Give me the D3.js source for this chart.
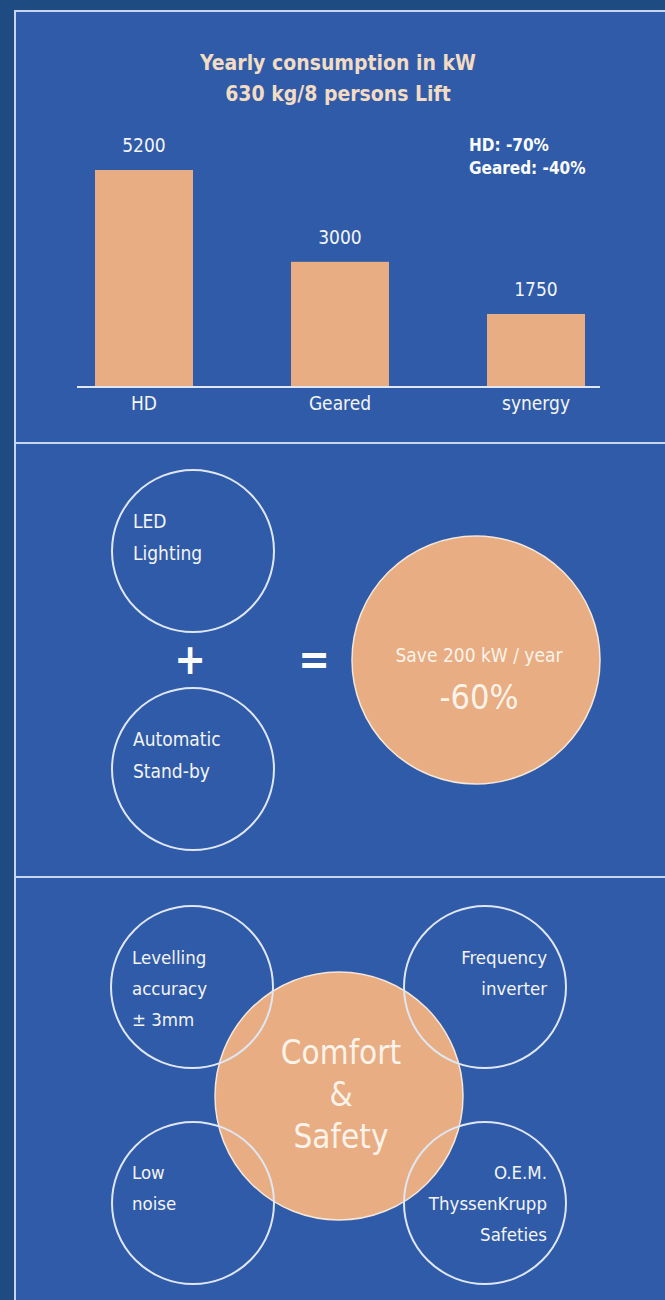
<!DOCTYPE html>
<html><head><meta charset="utf-8">
<script src="https://cdn.jsdelivr.net/npm/d3@7"></script>
<style>
html,body{margin:0;padding:0;background:#1f4b83;}
svg{display:block;}
</style></head>
<body>
<script>
// ---- data ----
const titleLines = ["Yearly consumption in kW", "630 kg/8 persons Lift"];
const categories = ["HD", "Geared", "synergy"];
const values = [5200, 3000, 1750];
const savingsNotes = ["HD: -70%", "Geared: -40%"];
const energyInputs = [["LED", "Lighting"], ["Automatic", "Stand-by"]];
const energyResult = ["Save 200 kW / year", "-60%"];
const comfortCenter = ["Comfort", "&", "Safety"];
const comfortItems = [
  ["Levelling", "accuracy", "± 3mm"],
  ["Frequency", "inverter"],
  ["Low", "noise"],
  ["O.E.M.", "ThyssenKrupp", "Safeties"]
];

const W = 665, H = 1300;
const FONT = "'DejaVu Sans Condensed','Roboto',sans-serif";
const panelBlue = "#2f5ba9", outerBlue = "#1f4b83", orange = "#e8ad82",
      lineCol = "#dfe6f4", textCol = "#f4f4f4", titleCol = "#f4dcc3";

const svg = d3.select("body").append("svg").attr("width", W).attr("height", H)
  .style("font-family", FONT);

svg.append("rect").attr("width", W).attr("height", H).attr("fill", outerBlue);
// panels
const panels = [[10, 442], [442, 876], [876, 1310]];
panels.forEach(([y0, y1]) => {
  svg.append("rect").attr("x", 15).attr("y", y0 + 1).attr("width", W).attr("height", y1 - y0)
    .attr("fill", panelBlue).attr("stroke", "#c8d5ee").attr("stroke-width", 2);
});

// ---- Panel 1: bar chart ----
const g1 = svg.append("g");
g1.selectAll("text.title").data(titleLines).join("text")
  .attr("x", 338).attr("y", (d, i) => 70 + i * 31)
  .attr("text-anchor", "middle").attr("fill", titleCol)
  .attr("font-size", 21).attr("font-weight", "bold").text(d => d);

const x = d3.scaleBand().domain(categories).range([46, 634]).paddingInner(0.5).paddingOuter(0.25);
const y = d3.scaleLinear().domain([0, 5200]).range([387, 170]);

g1.selectAll("rect.bar").data(values).join("rect")
  .attr("x", (d, i) => x(categories[i])).attr("y", d => y(d))
  .attr("width", x.bandwidth()).attr("height", d => y(0) - y(d))
  .attr("fill", orange);

g1.selectAll("text.val").data(values).join("text")
  .attr("x", (d, i) => x(categories[i]) + x.bandwidth() / 2)
  .attr("y", d => y(d) - 18)
  .attr("text-anchor", "middle").attr("fill", textCol).attr("font-size", 19).text(d => d);

g1.append("line").attr("x1", 77).attr("x2", 600).attr("y1", y(0)).attr("y2", y(0))
  .attr("stroke", lineCol).attr("stroke-width", 2);

g1.selectAll("text.cat").data(categories).join("text")
  .attr("x", d => x(d) + x.bandwidth() / 2).attr("y", 410)
  .attr("text-anchor", "middle").attr("fill", textCol).attr("font-size", 19).text(d => d);

g1.selectAll("text.note").data(savingsNotes).join("text")
  .attr("x", 469).attr("y", (d, i) => 151 + i * 23)
  .attr("fill", "#ffffff").attr("font-size", 17).attr("font-weight", "bold").text(d => d);

// ---- Panel 2 ----
const g2 = svg.append("g");
const inCircles = [{cx: 193, cy: 551}, {cx: 193, cy: 769}];
g2.selectAll("circle.in").data(energyInputs).join("circle")
  .attr("cx", (d, i) => inCircles[i].cx).attr("cy", (d, i) => inCircles[i].cy).attr("r", 81)
  .attr("fill", "none").attr("stroke", lineCol).attr("stroke-width", 2);
energyInputs.forEach((lines, i) => {
  g2.selectAll(null).data(lines).join("text")
    .attr("x", 133).attr("y", (d, j) => inCircles[i].cy - 23 + j * 32)
    .attr("fill", textCol).attr("font-size", 19).text(d => d);
});
g2.append("text").attr("x", 190).attr("y", 674).attr("text-anchor", "middle")
  .attr("fill", "#ffffff").attr("font-size", 42).attr("font-weight", "bold").text("+");
g2.append("text").attr("x", 314).attr("y", 674).attr("text-anchor", "middle")
  .attr("fill", "#ffffff").attr("font-size", 42).attr("font-weight", "bold").text("=");
g2.append("circle").attr("cx", 476).attr("cy", 660).attr("r", 124)
  .attr("fill", orange).attr("stroke", "#f4e6da").attr("stroke-width", 1.5);
g2.append("text").attr("x", 479).attr("y", 662).attr("text-anchor", "middle")
  .attr("fill", "#fbf3ea").attr("font-size", 19).text(energyResult[0]);
g2.append("text").attr("x", 479).attr("y", 709).attr("text-anchor", "middle")
  .attr("fill", "#fbf3ea").attr("font-size", 34).text(energyResult[1]);

// ---- Panel 3 ----
const g3 = svg.append("g");
g3.append("circle").attr("cx", 339).attr("cy", 1096).attr("r", 124)
  .attr("fill", orange).attr("stroke", "#f4e6da").attr("stroke-width", 1.5);
const pos = [
  {cx: 192, cy: 987, anchor: "start", tx: 132, ty: 958},
  {cx: 485, cy: 987, anchor: "end", tx: 547, ty: 958},
  {cx: 193, cy: 1203, anchor: "start", tx: 132, ty: 1173},
  {cx: 485, cy: 1203, anchor: "end", tx: 547, ty: 1173}
];
g3.selectAll("circle.item").data(comfortItems).join("circle")
  .attr("cx", (d, i) => pos[i].cx).attr("cy", (d, i) => pos[i].cy).attr("r", 81)
  .attr("fill", "none").attr("stroke", lineCol).attr("stroke-width", 2);
comfortItems.forEach((lines, i) => {
  g3.selectAll(null).data(lines).join("text")
    .attr("x", pos[i].tx).attr("y", (d, j) => pos[i].ty + 6 + j * 31)
    .attr("text-anchor", pos[i].anchor)
    .attr("fill", textCol).attr("font-size", 18.5).text(d => d);
});
g3.selectAll("text.center").data(comfortCenter).join("text")
  .attr("x", 341).attr("y", (d, i) => 1064 + i * 42)
  .attr("text-anchor", "middle").attr("fill", "#fbf3ea").attr("font-size", 33).text(d => d);
</script>
</body></html>
